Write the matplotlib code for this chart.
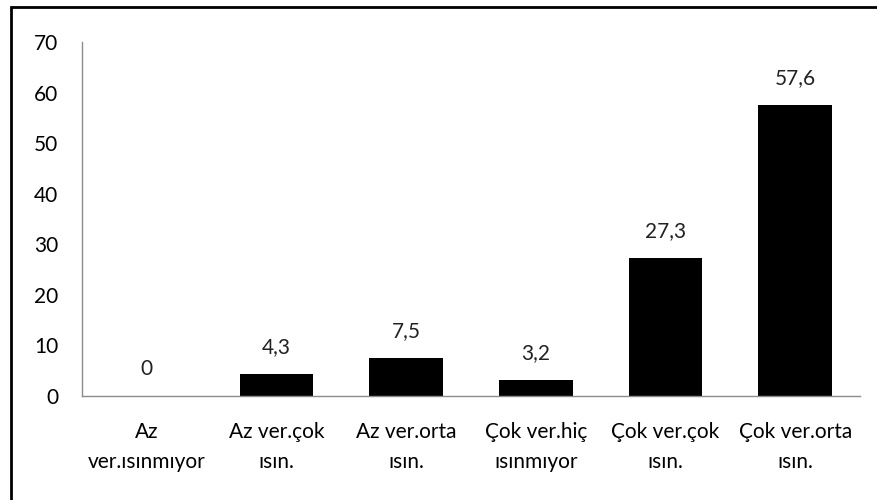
import matplotlib
matplotlib.use("Agg")
import matplotlib.pyplot as plt
from matplotlib.patches import Rectangle

categories = [
    "Az\nver.ısınmıyor",
    "Az ver.çok\nısın.",
    "Az ver.orta\nısın.",
    "Çok ver.hiç\nısınmıyor",
    "Çok ver.çok\nısın.",
    "Çok ver.orta\nısın.",
]
values = [0, 4.3, 7.5, 3.2, 27.3, 57.6]
value_labels = ["0", "4,3", "7,5", "3,2", "27,3", "57,6"]
y_ticks = [0, 10, 20, 30, 40, 50, 60, 70]

plt.rcParams["font.family"] = ["Lato", "DejaVu Sans"]
FS = 15

fig = plt.figure(figsize=(8.78, 5.0), dpi=100)
ax = fig.add_axes([82 / 878, 1 - 396 / 500, 778 / 878, 354 / 500])

x = list(range(len(categories)))
ax.bar(x, values, width=0.57, color="black")

for xi, v, lab in zip(x, values, value_labels):
    ax.annotate(lab, (xi, v), xytext=(0, 12), textcoords="offset points",
                ha="center", va="bottom", fontsize=FS, color="#222222")

ax.set_xlim(-0.5, len(categories) - 0.5)
ax.set_ylim(0, 70)
ax.set_yticks(y_ticks)
ax.set_yticklabels([str(t) for t in y_ticks], fontsize=FS)
ax.set_xticks(x)
ax.set_xticklabels(categories, fontsize=FS, linespacing=1.6)
ax.tick_params(axis="y", length=0, pad=17)
ax.tick_params(axis="x", length=0, pad=19)

for side in ("top", "right"):
    ax.spines[side].set_visible(False)
for side in ("left", "bottom"):
    ax.spines[side].set_color("#8c8c8c")
    ax.spines[side].set_linewidth(1.0)

# outer frame around the chart area
fig.patches.append(Rectangle((11 / 878, -0.05), 1.1, 1 - 7 / 500 + 0.05,
                             transform=fig.transFigure, fill=False,
                             edgecolor="black", linewidth=2))

fig.savefig("out.png", dpi=100)
